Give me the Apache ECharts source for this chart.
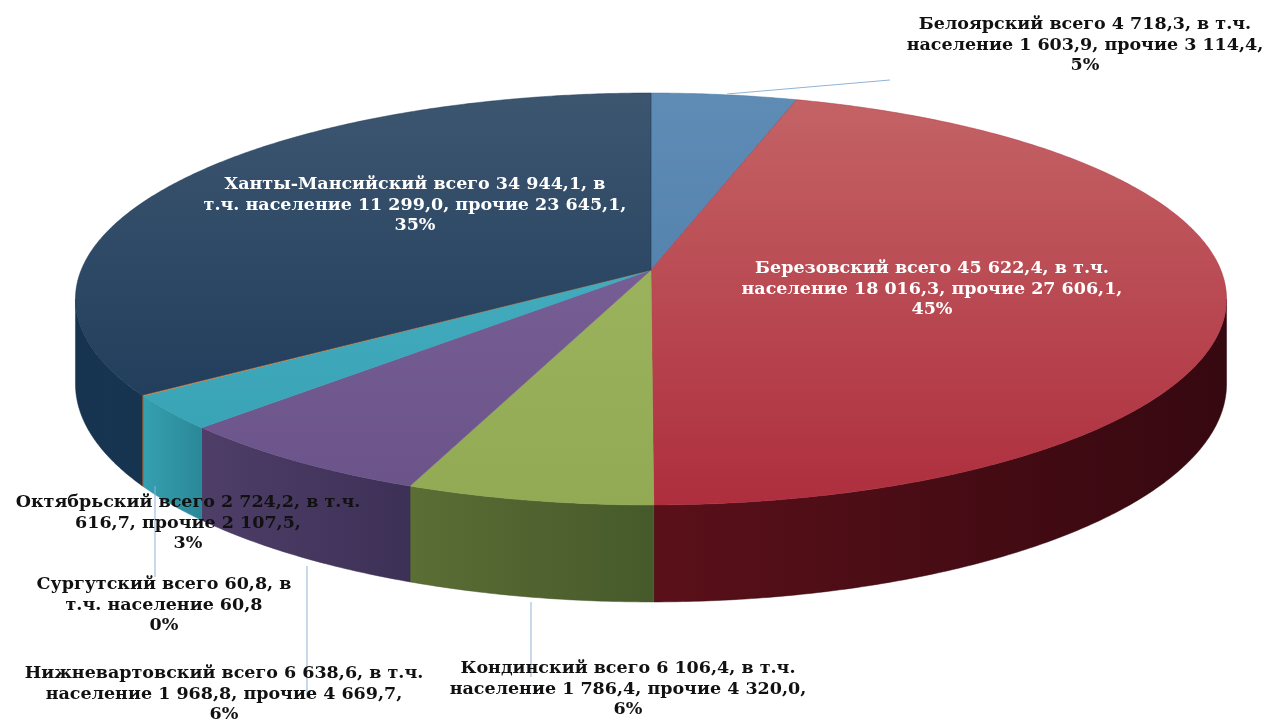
<!DOCTYPE html>
<html><head><meta charset="utf-8">
<script src="https://cdn.jsdelivr.net/npm/echarts@6/dist/echarts.min.js"></script>
<style>html,body{margin:0;padding:0;background:#fff}#c{width:1262px;height:719px}</style>
</head><body><div id="c"></div>
<script>
// Data (тыс. руб), Excel order (alphabetical), clockwise from 12 o'clock
const categories = ['Белоярский','Березовский','Кондинский','Нижневартовский','Октябрьский','Сургутский','Ханты-Мансийский'];
const totals     = [4718.3, 45622.4, 6106.4, 6638.6, 2724.2, 60.8, 34944.1];
const population = [1603.9, 18016.3, 1786.4, 1968.8, 616.7, 60.8, 11299.0];
const others     = [3114.4, 27606.1, 4320.0, 4669.7, 2107.5, 0, 23645.1];
const labelLines = [
  ['Белоярский всего 4 718,3, в т.ч.','население 1 603,9, прочие 3 114,4,','5%'],
  ['Березовский всего 45 622,4, в т.ч.','население 18 016,3, прочие 27 606,1,','45%'],
  ['Кондинский всего 6 106,4, в т.ч.','население 1 786,4, прочие 4 320,0,','6%'],
  ['Нижневартовский всего 6 638,6, в т.ч.','население 1 968,8, прочие 4 669,7,','6%'],
  ['Октябрьский всего 2 724,2, в т.ч.','616,7, прочие 2 107,5,','3%'],
  ['Сургутский всего 60,8, в','т.ч. население 60,8','0%'],
  ['Ханты-Мансийский всего 34 944,1, в','т.ч. население 11 299,0, прочие 23 645,1,','35%']
];

// Styles
const topColors  = [['#5e8cb5','#4878a6'],['#c46466','#ae2e3e'],['#a2b964','#93aa55'],['#80679f','#6a5388'],['#4bb4c4','#36a0b4'],['#f79646','#e07a30'],['#3d5670','#183656']];
const sideColors = [['#2e5a84','#244a70'],['#5a1019','#360810'],['#5b6e35','#46592a'],['#4e3e68','#3d3056'],['#35a0b0','#2a8898'],['#c06020','#a05018'],['#173350','#163450']];
const labelPos = [[1085,45,'#111'],[932,289,'#fff'],[628,689,'#111'],[224,694,'#111'],[188,523,'#111'],[164,605,'#111'],[415,205,'#fff']];

// Perspective pie geometry
const CX=651, CY=270, A=569.8, B=201.9, K=0.1408, H=83.3;
function proj(t, down){
  const u=Math.sin(t), v=Math.cos(t), d=1+K*v;
  return [CX + A*u/d, CY - B*v/d + (down ? H/d : 0)];
}
const sum = totals.reduce((a,b)=>a+b,0);
const starts=[]; let acc=0;
totals.forEach(v=>{starts.push(acc); acc+=v;});

function arc(a0,a1,down){
  const pts=[]; const n=Math.max(2,Math.ceil((a1-a0)/(Math.PI/360)));
  for(let i=0;i<=n;i++) pts.push(proj(a0+(a1-a0)*i/n,down));
  return pts;
}
const SL=Math.acos(-K), SR=2*Math.PI-Math.acos(-K);

function renderItem(params, api){
  const i=params.dataIndex;
  const a0=starts[i]/sum*2*Math.PI, a1=(starts[i]+api.value(1))/sum*2*Math.PI;
  const children=[];
  const s0=Math.max(a0,SL), s1=Math.min(a1,SR);
  if(s1>s0){
    const topArc=arc(s0,s1,false), botArc=arc(s0,s1,true).reverse();
    children.push({type:'polygon',shape:{points:topArc.concat(botArc)},
      style:{fill:{type:'linear',x:0,y:0,x2:1,y2:0,colorStops:[{offset:0,color:sideColors[i][0]},{offset:1,color:sideColors[i][1]}]},
        stroke:sideColors[i][1],lineWidth:0.5}});
  }
  const pts=[[CX,CY]].concat(arc(a0,a1,false));
  children.push({type:'polygon',shape:{points:pts},
    style:{fill:{type:'linear',x:0,y:93,x2:0,y2:505,global:true,colorStops:[{offset:0,color:topColors[i][0]},{offset:1,color:topColors[i][1]}]},
      stroke:topColors[i][1],lineWidth:0.5}});
  return {type:'group',children};
}

const font='bold 17.5px "DejaVu Serif", serif';
const graphics = labelLines.map((lines,i)=>({
  type:'text', x:labelPos[i][0], y:labelPos[i][1], z:10,
  style:{text:lines.join('\n'), font, fill:labelPos[i][2], textAlign:'center', textVerticalAlign:'middle', lineHeight:20.5}
}));
const leader='#8fb3d6';
[[[727,94],[890,80]],[[531,602],[531,677]],[[307,566],[307,698]],[[155,486],[155,577]]].forEach(l=>{
  graphics.push({type:'polyline',z:5,shape:{points:l},style:{stroke:leader,lineWidth:1,fill:null}});
});

const chart=echarts.init(document.getElementById('c'));
chart.setOption({
  animation:false,
  series:[{type:'custom',coordinateSystem:'none',renderItem,
    data:categories.map((c,i)=>[i,totals[i],population[i],others[i]])}],
  graphic:graphics
});
</script></body></html>
